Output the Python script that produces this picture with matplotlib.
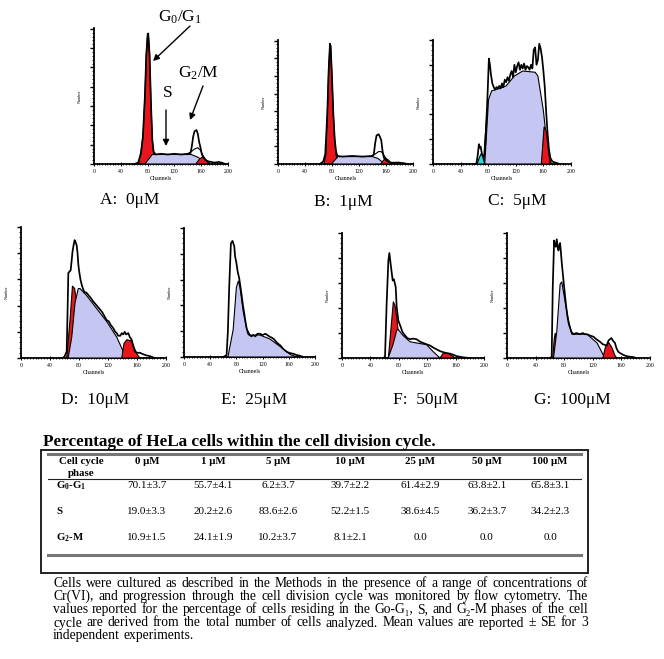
import matplotlib
matplotlib.use('Agg')
import matplotlib.pyplot as plt
from matplotlib.ticker import MultipleLocator

plt.rcParams['font.family'] = ['Liberation Serif', 'DejaVu Serif']
plt.rcParams['mathtext.fontset'] = 'custom'
plt.rcParams['mathtext.rm'] = 'Liberation Serif'
plt.rcParams['mathtext.it'] = 'Liberation Serif:italic'
plt.rcParams['mathtext.bf'] = 'Liberation Serif:bold'

# ---------------- data (channel, % of axis height) ----------------
A_outline = [(60, 0), (66, 1), (70, 8), (73, 20), (76, 50), (78, 80), (80, 95), (81, 96), (83, 80), (85, 45),
             (87, 18), (89, 9), (92, 7), (100, 7.5), (110, 7), (120, 7.5), (130, 7), (140, 7.5), (144, 8),
             (146, 13), (148, 20), (150, 24), (153, 25), (155, 22), (157, 16), (159, 12), (161, 7), (163, 5),
             (166, 3), (170, 2), (175, 1.5), (180, 1), (186, 1.5), (192, 0.8), (196, 0)]
A_g1 = [(66, 0), (70, 8), (73, 20), (76, 50), (78, 80), (80, 95), (81, 96), (83, 80), (85, 45), (87, 18), (89, 8), (92, 0)]
A_s = [(76, 0), (87, 7), (145, 7), (155, 5), (165, 1.5), (168, 0)]
A_g2 = [(152, 0), (158, 4), (162, 5), (166, 3.5), (170, 1), (172, 0)]
A_fit = [(138, 7), (145, 9), (150, 11), (155, 12), (159, 10), (163, 6), (167, 3), (172, 1)]

B_outline = [(62, 0), (67, 2), (70, 8), (73, 40), (75, 75), (77, 97), (78, 95), (80, 70), (82, 40), (84, 20),
             (86, 10), (88, 6.5), (95, 6), (110, 6.5), (125, 6), (140, 6.5), (142, 8), (144, 17), (146, 23),
             (149, 24), (151, 22), (153, 19), (155, 10), (157, 5), (160, 3), (164, 1.5), (170, 1), (178, 1.2),
             (185, 0.8), (192, 0)]
B_g1 = [(68, 0), (71, 8), (73, 40), (75, 75), (77, 97), (78, 95), (80, 70), (82, 40), (84, 20), (86, 8), (88, 0)]
B_s = [(79, 0), (89, 6), (140, 6), (148, 4.5), (156, 1), (159, 0)]
B_g2 = [(152, 0), (157, 3.5), (160, 4.5), (164, 3), (167, 1), (169, 0)]
B_fit = [(138, 6), (144, 8), (149, 10), (153, 10), (157, 7), (161, 3.5), (166, 1)]

C_outline = [(60, 0), (63, 0.5), (65, 8), (66.5, 16), (68, 13), (69, 14), (71, 8), (73, 6), (75, 8), (77, 30),
             (79, 55), (81, 85), (82.5, 80), (84, 72), (86, 65), (88, 62), (90, 60), (92, 62), (94, 61),
             (96, 63), (98, 61), (100, 65), (102, 62), (104, 68), (106, 66), (108, 70), (110, 67), (112, 72),
             (114, 75), (116, 70), (118, 80), (120, 74), (122, 79), (124, 82), (126, 76), (128, 80), (130, 77),
             (132, 81), (134, 76), (136, 79), (138, 78), (140, 76), (142, 80), (144, 77), (146, 92), (148, 94),
             (150, 80), (152, 84), (154, 97), (156, 93), (158, 86), (160, 75), (162, 62), (164, 42), (166, 25),
             (168, 12), (170, 5), (173, 2), (178, 1), (184, 0)]
C_g1 = [(73, 0), (76, 25), (78.5, 45), (80, 40), (82, 0)]
C_s = [(75, 0), (80.5, 52), (85, 59), (97, 61), (106, 63), (118, 71), (130, 75), (148, 74), (152, 71),
       (160, 43), (167, 6), (172, 0)]
C_g2 = [(157, 0), (161, 30), (164, 27), (167, 12), (170, 0)]
C_subg1 = [(64, 0), (67, 5), (70, 8.5), (72, 6), (75, 0)]

D_outline = [(57, 0), (60, 1), (63, 5), (64, 30), (65.3, 65), (67, 66), (68.5, 67), (70, 75), (71, 81),
             (72.5, 86), (74, 90), (75.5, 88), (76.8, 86), (78, 80), (79, 72), (80, 67), (82, 60), (83.7, 56),
             (86, 52), (88, 50), (90, 50), (93, 48), (96, 46), (99.8, 43), (103, 41), (106, 39), (109, 37),
             (112, 35), (115, 32), (118, 29), (121, 28), (124, 25), (127, 23), (130, 20), (132, 19), (134, 17),
             (137, 17), (139, 19), (141, 18), (143, 20), (145, 18), (148, 19), (150, 16), (152.6, 14), (155, 9),
             (157, 5), (160, 4), (164, 4), (168, 3), (173, 2), (177, 1.5), (180, 1), (184, 0)]
D_g1 = [(63, 0), (67.6, 29), (71, 55), (74, 53), (77.7, 38), (81.4, 21), (84, 0)]
D_s = [(65, 0), (70, 16), (74.5, 42), (79, 53), (81.4, 53), (90, 48), (104, 38), (118, 28), (132, 16),
       (141, 5), (146, 0)]
D_g2 = [(139, 0), (142, 11), (146, 14), (152, 13), (156, 8), (160, 3), (164, 0)]

E_outline = [(60, 0), (65, 1.5), (67, 20), (69, 54), (71.6, 88), (74, 90), (76.7, 86), (78, 78), (80, 73),
             (82, 66), (84.3, 61), (86, 55), (88, 48), (90, 40), (91.6, 35), (94, 27), (95.7, 22), (98, 18),
             (100, 17), (103, 16), (106, 17), (109, 16), (112, 18), (116, 18), (120, 17), (124, 18),
             (126, 17.5), (130, 16), (134, 15), (137, 14), (142, 11), (147, 9), (152, 6), (157, 4), (162, 3),
             (167, 2.5), (172, 1.5), (177, 1), (182, 0)]
E_s = [(67, 0), (75, 21), (80, 54), (83, 59), (85.4, 54), (90.5, 35), (95.7, 22), (100.8, 17), (116, 17),
       (131, 14), (147, 8), (162, 2), (172, 0)]

F_outline = [(58, 0), (60.6, 1), (62.9, 44), (65.3, 78), (66.7, 84), (69, 73), (71.4, 62), (73, 63),
             (75.6, 57), (77, 41), (79.3, 30), (82.6, 25), (85, 21), (88.7, 18), (92, 16), (95.8, 15),
             (100, 15.5), (105, 15), (110, 13), (114.5, 12), (119, 11), (124, 10), (128, 8.5), (133, 7),
             (138, 5.5), (142.8, 4.6), (147, 4), (152, 3.5), (157, 2.5), (161.5, 1.5), (166, 1), (171, 0.5),
             (180, 0)]
F_g1 = [(65.3, 0), (70, 30), (72.3, 45), (74.6, 42), (77, 33), (79, 22), (81.7, 9), (84, 0)]
F_s = [(65, 0), (72, 11), (77, 22), (79, 23), (86, 18), (95.8, 13), (105, 12), (119, 10.7), (128.6, 5), (138, 0)]
F_g2 = [(138, 0), (142.8, 4), (150, 3.5), (157, 1), (159, 0)]

G_outline = [(60, 0), (62.5, 1), (64, 57), (65.9, 94), (67, 90), (68.2, 89), (69.6, 95), (71, 88), (72, 86),
             (73, 90), (74.3, 92), (75.5, 84), (76.6, 76), (78, 68), (79, 62), (81.3, 49), (83, 40), (84.6, 33),
             (86.5, 27), (88.3, 24), (90, 21), (93, 19), (97, 20), (102, 19), (106, 20), (109, 19),
             (111.9, 19), (116, 18), (121, 17), (125, 15), (130, 13), (134, 11), (139.3, 10), (142, 14),
             (144, 15), (146, 16), (148, 14), (151, 12), (153, 8), (155.6, 5), (158, 4), (162.6, 2.5),
             (167, 1.5), (172, 1), (176, 0.8), (181, 0)]
G_g1 = [(64, 0), (66, 15), (67.5, 20), (69, 12), (70, 0)]
G_s = [(65, 0), (69.6, 21), (74.3, 59), (76.6, 61), (81, 46), (86, 30), (90.7, 19), (112, 19), (126, 12),
       (135, 2), (137.6, 0)]
G_g2 = [(134, 0), (137.6, 8.5), (142, 12.5), (146.6, 8.5), (151, 2), (153.5, 0)]

panel_titles = ['A:  0\u03bcM', 'B:  1\u03bcM', 'C:  5\u03bcM', 'D:  10\u03bcM', 'E:  25\u03bcM', 'F:  50\u03bcM', 'G:  100\u03bcM']
x_ticks = [0, 40, 80, 120, 160, 200]

conc_labels = ['0 \u03bcM', '1 \u03bcM', '5 \u03bcM', '10 \u03bcM', '25 \u03bcM', '50 \u03bcM', '100 \u03bcM']
phase_labels = [r'G$_\mathbf{0}$-G$_\mathbf{1}$', 'S', r'G$_\mathbf{2}$-M']
g1_mean = [70.1, 55.7, 6.2, 39.7, 61.4, 63.8, 65.8]
g1_se = [3.7, 4.1, 3.7, 2.2, 2.9, 2.1, 3.1]
s_mean = [19.0, 20.2, 83.6, 52.2, 38.6, 36.2, 34.2]
s_se = [3.3, 2.6, 2.6, 1.5, 4.5, 3.7, 2.3]
g2_mean = [10.9, 24.1, 10.2, 8.1, 0.0, 0.0, 0.0]
g2_se = [1.5, 1.9, 3.7, 2.1, None, None, None]

table_title = 'Percentage of HeLa cells within the cell division cycle.'
caption_lines = [
    'Cells were cultured as described in the Methods in the presence of a range of concentrations of',
    'Cr(VI), and progression through the cell division cycle was monitored by flow cytometry.  The',
    'values reported for the percentage of cells residing in the Go-G\u2081, S, and G\u2082-M phases of the cell',
    'cycle are derived from the total number of cells analyzed.  Mean values are reported \u00b1 SE for 3',
    'independent experiments.',
]

# ---------------- figure ----------------
W, H = 664, 659
fig = plt.figure(figsize=(W / 100, H / 100), dpi=100)
RED = '#e8161c'
LAV = '#c6c6f2'
CYAN = '#22dede'


def px_axes(x0, x200, ytop, ybase):
    return fig.add_axes([x0 / W, 1 - ybase / H, (x200 - x0) / W, (ybase - ytop) / H])


def fill_poly(ax, pts, color, z):
    xs, ys = zip(*pts)
    ax.fill(xs, ys, facecolor=color, edgecolor='black', lw=0.8, zorder=z, clip_on=False)


def draw_panel(ax, outline, g1, s, g2, fit=None, sub=None, major=20.0):
    if g1:
        fill_poly(ax, g1, RED, 2)
    fill_poly(ax, s, LAV, 3)
    if g2:
        fill_poly(ax, g2, RED, 4)
    if sub:
        fill_poly(ax, sub, CYAN, 4)
    if fit:
        xs, ys = zip(*fit)
        ax.plot(xs, ys, color='black', lw=0.8, zorder=5, clip_on=False)
    xs, ys = zip(*outline)
    ax.plot(xs, ys, color='black', lw=1.25, zorder=6, clip_on=False)
    ax.set_xlim(0, 200)
    ax.set_ylim(0, 100)
    ax.set_facecolor('none')
    for sp in ('top', 'right'):
        ax.spines[sp].set_visible(False)
    for sp in ('left', 'bottom'):
        ax.spines[sp].set_linewidth(1.3)
    ax.set_xticks(x_ticks)
    ax.set_xticklabels([str(t) for t in x_ticks])
    ax.xaxis.set_minor_locator(MultipleLocator(4))
    ax.yaxis.set_major_locator(MultipleLocator(major))
    ax.yaxis.set_minor_locator(MultipleLocator(major / 5))
    ax.set_yticklabels([])
    ax.tick_params(axis='x', which='major', length=2.5, width=0.8, direction='inout', labelsize=4.2, pad=2)
    ax.tick_params(axis='x', which='minor', length=1.8, width=0.6, direction='inout')
    ax.tick_params(axis='y', which='major', length=3, width=1.0, direction='out')
    ax.tick_params(axis='y', which='minor', length=1.6, width=0.6, direction='out')
    ax.set_xlabel('Channels', fontsize=4.2, labelpad=1.5)
    ax.set_ylabel('Number', fontsize=3, labelpad=2)


axA = px_axes(94, 228, 28, 164)
draw_panel(axA, A_outline, A_g1, A_s, A_g2, fit=A_fit, major=14.2)
axB = px_axes(278, 413, 40, 164)
draw_panel(axB, B_outline, B_g1, B_s, B_g2, fit=B_fit, major=14.2)
axC = px_axes(433, 571, 40, 164)
draw_panel(axC, C_outline, C_g1, C_s, C_g2, sub=C_subg1)
axD = px_axes(21, 166, 227, 358)
draw_panel(axD, D_outline, D_g1, D_s, D_g2)
axE = px_axes(184, 315, 228, 357)
draw_panel(axE, E_outline, None, E_s, None)
axF = px_axes(342, 484, 233, 358)
draw_panel(axF, F_outline, F_g1, F_s, F_g2)
axG = px_axes(507, 650, 233, 358)
draw_panel(axG, G_outline, G_g1, G_s, G_g2)

# overlay in pixel coordinates for text, table, caption
ov = fig.add_axes([0, 0, 1, 1])
ov.set_xlim(0, W)
ov.set_ylim(H, 0)
ov.axis('off')
ov.set_zorder(10)

title_pos = [(130, 200), (343, 202), (517, 201), (95, 400), (254, 400), (426, 400), (572, 400)]
for (tx, ty), lab in zip(title_pos, panel_titles):
    ov.text(tx, ty, lab, fontsize=12.5, ha='center', va='center')

# annotations in panel A
ov.text(180, 17, r'G$_0$/G$_1$', fontsize=12.5, ha='center', va='center')
ov.text(198, 73, r'G$_2$/M', fontsize=12.5, ha='center', va='center')
ov.text(168, 93, 'S', fontsize=12.5, ha='center', va='center')
arrow_kw = dict(arrowstyle='-|>', color='black', lw=1.0, mutation_scale=9, shrinkA=0, shrinkB=0)
ov.annotate('', xy=(153, 61), xytext=(190, 26), arrowprops=arrow_kw)
ov.annotate('', xy=(190, 120), xytext=(203, 86), arrowprops=arrow_kw)
ov.annotate('', xy=(166, 146), xytext=(166, 110), arrowprops=arrow_kw)

# ---------------- table ----------------
ov.text(43, 446, table_title, fontsize=12.3, fontweight='bold', ha='left', va='baseline')
ov.add_patch(plt.Rectangle((41, 450), 547, 123, fill=False, edgecolor='#222222', lw=1.4))
ov.plot([48, 581], [453.5, 453.5], color='#777777', lw=2.2)
ov.plot([48, 581], [479, 479], color='#222222', lw=0.8)
ov.plot([48, 581], [555, 555], color='#777777', lw=2.2)

col_x = [147, 213, 278, 350, 420, 487, 550]
ov.text(81, 461, 'Cell cycle', fontsize=7.8, fontweight='bold', ha='center', va='center')
ov.text(81, 473.5, 'phase', fontsize=7.8, fontweight='bold', ha='center', va='center')
for cx, lab in zip(col_x, conc_labels):
    ov.text(cx, 461, lab, fontsize=7.8, fontweight='bold', ha='center', va='center')

row_y = [486, 512, 538]
rows = [(g1_mean, g1_se), (s_mean, s_se), (g2_mean, g2_se)]
for ry, plab, (means, ses) in zip(row_y, phase_labels, rows):
    ov.text(56, ry, plab, fontsize=7.8, fontweight='bold', ha='left', va='center')
    for cx, m, e in zip(col_x, means, ses):
        txt = f'{m:.1f}' if e is None else f'{m:.1f}\u00b1{e:.1f}'
        ov.text(cx, ry, txt, fontsize=8, ha='center', va='center')

# ---------------- caption (justified) ----------------
renderer = fig.canvas.get_renderer()
cap_fs = 9.8
cap_left, cap_right = 53, 588
cap_base = [587, 600, 613, 626.5, 639.5]
min_gap = 0.2 * cap_fs * 100 / 72
for i, (line, yb) in enumerate(zip(caption_lines, cap_base)):
    words = line.split()
    texts = [ov.text(0, yb, w, fontsize=cap_fs, ha='left', va='baseline') for w in words]
    widths = [t.get_window_extent(renderer).width for t in texts]
    if i < len(caption_lines) - 1:
        gap = (cap_right - cap_left - sum(widths)) / (len(words) - 1)
        if gap < min_gap:
            scale = (cap_right - cap_left - min_gap * (len(words) - 1)) / sum(widths)
            for t in texts:
                t.set_fontsize(cap_fs * scale)
            widths = [wd * scale for wd in widths]
            gap = min_gap
    else:
        gap = 0.25 * cap_fs * 100 / 72
    x = cap_left
    for t, wd in zip(texts, widths):
        t.set_x(x)
        x += wd + gap

fig.savefig('out.png', dpi=100)
